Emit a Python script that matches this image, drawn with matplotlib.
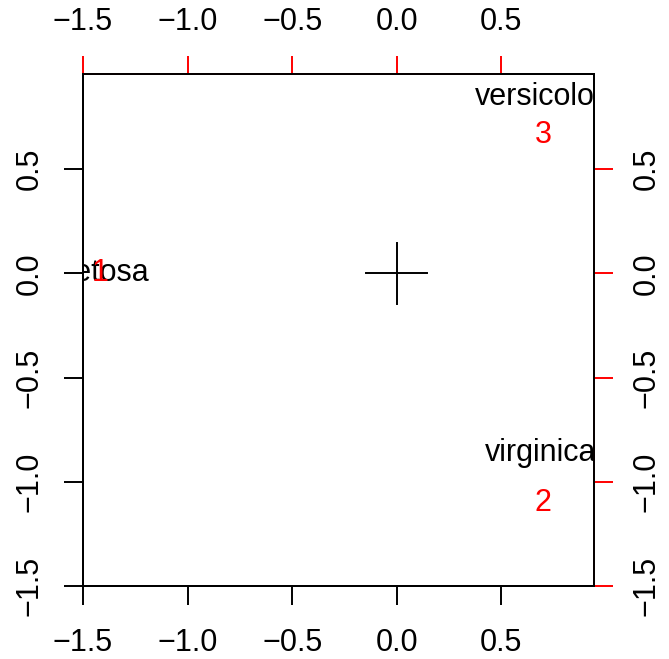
import matplotlib
matplotlib.use("Agg")
import matplotlib.pyplot as plt

plt.rcParams['font.family'] = ['Liberation Sans', 'DejaVu Sans']

# Data
groups = ['setosa', 'versicolor', 'virginica']
score_x = [-1.40, 0.684, 0.69]
score_y = [0.0, 0.845, -0.86]
var_labels = ['1', '2', '3']
var_x = [-1.416, 0.70, 0.70]
var_y = [0.0, -1.10, 0.663]
ticks = [-1.5, -1.0, -0.5, 0.0, 0.5]
tick_labels = ['\u22121.5', '\u22121.0', '\u22120.5', '0.0', '0.5']
xlim = (-1.5, 0.943)
ylim = (-1.5, 0.957)

W, H = 669, 659
fig = plt.figure(figsize=(W / 100, H / 100), dpi=100)
rect = [83 / W, 1 - 586 / H, (594 - 83) / W, (586 - 74) / H]
ax = fig.add_axes(rect)
ax.set_xlim(*xlim)
ax.set_ylim(*ylim)

fs = 22
lw = 1.4
tl = 14

for s in ax.spines.values():
    s.set_linewidth(lw)

ax.set_xticks(ticks)
ax.set_xticklabels(tick_labels)
ax.set_yticks(ticks)
ax.set_yticklabels(tick_labels, rotation=90, va='center')
ax.tick_params(axis='x', direction='out', length=tl, width=lw, labelsize=fs, pad=16.5)
ax.tick_params(axis='y', direction='out', length=tl, width=lw, labelsize=fs, pad=13.5)

# group labels
for g, x, y in zip(groups, score_x, score_y):
    ax.text(x, y, g, ha='center', va='center', fontsize=fs, color='black', clip_on=True)

# cross at origin
ax.plot([-0.145, 0.145], [0, 0], color='black', lw=lw)
ax.plot([0, 0], [-0.148, 0.148], color='black', lw=lw)

# secondary axes (variables)
ax2 = ax.twinx()
ax3 = ax2.twiny()
ax3.set_xlim(*xlim)
ax3.set_ylim(*ylim)
ax2.set_ylim(*ylim)
for a in (ax2, ax3):
    for s in a.spines.values():
        s.set_visible(False)
ax2.spines['right'].set_visible(True)
ax2.spines['right'].set_color('red')
ax2.spines['right'].set_linewidth(lw)
ax2.spines['right'].set_bounds(-1.5, 0.5)
ax2.set_yticks(ticks)
ax2.set_yticklabels(tick_labels, rotation=90, va='center')
ax2.tick_params(axis='y', direction='out', length=tl, width=lw, color='red',
                labelsize=fs, pad=13, labelcolor='black')

ax3.spines['top'].set_visible(True)
ax3.spines['top'].set_color('red')
ax3.spines['top'].set_linewidth(lw)
ax3.spines['top'].set_bounds(-1.5, 0.5)
ax3.set_xticks(ticks)
ax3.set_xticklabels(tick_labels)
ax3.tick_params(axis='x', direction='out', length=13, width=lw, color='red',
                labelsize=fs, pad=14, labelcolor='black')
ax3.tick_params(axis='y', left=False, right=False, labelleft=False, labelright=False)

for lab, x, y in zip(var_labels, var_x, var_y):
    ax3.text(x, y, lab, ha='center', va='center', fontsize=fs, color='red', clip_on=True)

# black box drawn on top
box = fig.add_axes(rect, zorder=10)
box.patch.set_visible(False)
box.set_xticks([])
box.set_yticks([])
for s in box.spines.values():
    s.set_linewidth(lw)
    s.set_color('black')

fig.savefig('out.png', dpi=100)
